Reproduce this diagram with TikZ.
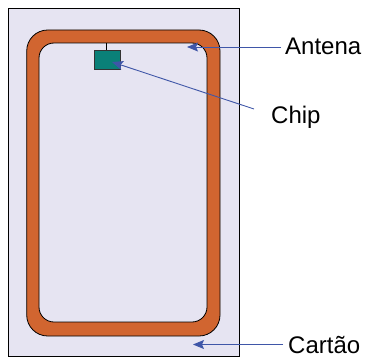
\documentclass[tikz,border=0pt]{standalone}
\usepackage{fontspec}
\setmainfont{Liberation Sans}
\usetikzlibrary{arrows.meta}
\definecolor{cardfill}{HTML}{E6E4F2}
\definecolor{antcol}{HTML}{D16530}
\definecolor{chipcol}{HTML}{0A8078}
\definecolor{arrcol}{HTML}{3F56A8}
\tikzset{
  lbl/.style={font=\fontsize{24}{28}\selectfont, inner sep=0pt, anchor=base west},
  pointer/.style={draw=arrcol, line width=0.9pt, -{Stealth[length=11pt,width=9pt,inset=2pt]}},
}
\begin{document}
\begin{tikzpicture}[x=1pt,y=-1pt]
\useasboundingbox (0,0) rectangle (366,361);
% card
\node[draw=black, fill=cardfill, line width=0.8pt, minimum width=231pt, minimum height=348pt, inner sep=0pt, anchor=north west] (card) at (8,8) {};
% antenna
\path[fill=antcol, draw=black, line width=0.8pt, even odd rule]
  [rounded corners=21pt] (26.7,30) rectangle (220,336)
  [rounded corners=15pt] (39,43) rectangle (207,322);
% chip
\coordinate (wire) at (106.5,43);
\node[draw=black!80, fill=chipcol, line width=0.8pt, minimum width=26pt, minimum height=19pt, inner sep=0pt, anchor=north west] (chip) at (94.3,50) {};
\draw[line width=0.8pt] (wire) -- (chip.north -| wire);
% labels
\node[lbl] (antena) at (285,55) {Antena};
\node[lbl] (chiplbl) at (271,123) {Chip};
\node[lbl] (cartao) at (288,353) {Cartão};
% pointers
\coordinate (antstart) at (281,47);
\coordinate (anttip) at (187,47);
\coordinate (chipstart) at (254,109);
\coordinate (chiptip) at (112,62);
\coordinate (carstart) at (283,344.5);
\coordinate (cartip) at (193,344.5);
\draw[pointer] (antstart) -- (anttip);
\draw[pointer] (chipstart) -- (chiptip);
\draw[pointer] (carstart) -- (cartip);
\end{tikzpicture}
\end{document}
